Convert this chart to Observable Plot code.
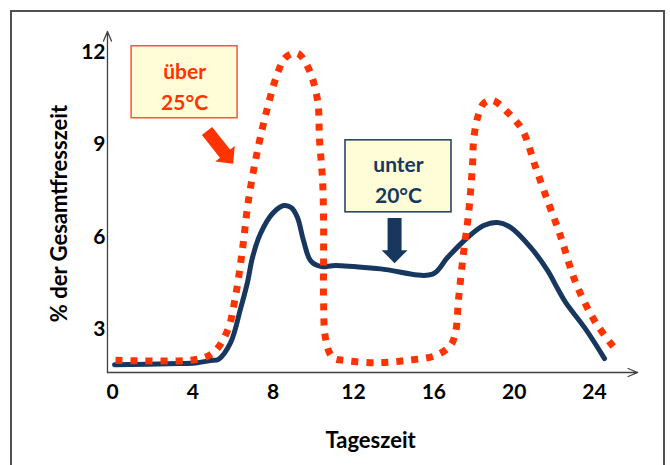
<!DOCTYPE html>
<html><head><meta charset="utf-8">
<script src="https://cdn.jsdelivr.net/npm/d3@7"></script>
<script src="https://cdn.jsdelivr.net/npm/@observablehq/plot@0.6"></script>
<style>
html,body{margin:0;padding:0;background:#fff;}
#wrap{position:relative;width:670px;height:465px;overflow:hidden;}
#border{position:absolute;left:10px;top:10px;width:655px;height:480px;border:2px solid #505050;box-sizing:border-box;pointer-events:none;}
</style></head>
<body><div id="wrap"><div id="border"></div></div>
<script>
// ---- data ----
const blueHours  = [0.10,3.24,4.13,4.88,5.28,5.88,6.37,6.72,6.97,7.37,7.97,8.52,8.91,9.21,9.51,9.86,10.36,11.11,13.35,15.94,16.68,17.68,18.48,19.17,19.82,20.82,21.66,22.16,22.56,23.56,24.50];
const blueValues = [1.84,1.88,1.90,1.98,2.02,2.56,3.65,4.52,5.33,6.11,6.76,7.02,6.95,6.63,5.88,5.23,5.04,5.07,4.96,4.79,5.33,5.98,6.37,6.47,6.31,5.66,4.91,4.32,3.87,3.00,2.04];
const redHours   = [0.15,4.23,5.03,5.73,6.13,6.47,6.77,7.22,7.72,8.22,8.62,9.21,9.76,10.21,10.31,10.46,10.51,10.51,10.51,10.61,10.96,11.60,13.25,14.74,16.09,16.83,17.08,17.23,17.48,17.73,17.93,17.98,18.18,18.48,18.92,19.72,20.42,21.07,21.71,22.16,22.41,23.06,24.05,25.05];
const redValues  = [1.99,2.02,2.24,2.96,4.09,5.59,7.19,8.81,10.21,11.32,11.84,11.97,11.48,10.44,9.13,7.84,6.53,5.23,3.93,2.69,2.08,1.98,1.91,1.99,2.14,2.47,2.89,3.97,5.49,6.76,8.39,9.14,9.88,10.34,10.44,10.02,9.46,8.26,7.09,6.31,5.82,4.52,3.22,2.34];
const xTicks = [0,4,8,12,16,20,24];
const yTicks = [3,6,9,12];
const xLabel = "Tageszeit";
const yLabel = "% der Gesamtfresszeit";
const noteTexts = ["über\n25°C", "unter\n20°C"];
const noteX = [3.59, 14.24];
const noteY = [11.03, 7.97];
const arrowFromX = [4.73, 14.07], arrowFromY = [9.43, 6.60];
const arrowToX = [6.03, 14.07],   arrowToY = [8.36, 5.13];
const axisOriginX = -0.25, axisOriginY = 1.59, axisEndX = 26.15, axisEndY = 12.68;

// ---- build ----
const blue = blueHours.map((h,i)=>({h, v: blueValues[i]}));
const red = redHours.map((h,i)=>({h, v: redValues[i]}));
const RED = "#FF3300", NAVY = "#17375E", FILL = "#FFFDD8";
const noteStroke = ["#FF5533", "#1F3B5A"];
const noteColor = [RED, NAVY];
const arrowColor = [RED, NAVY];
const arrowShaft = [13, 14], arrowHead = [25, 26], arrowHeadLen = [13, 13];

function boxes(index, scales) {
  const g = d3.create("svg:g");
  noteTexts.forEach((t,i)=>{
    const cx = scales.x(noteX[i]), cy = scales.y(noteY[i]);
    g.append("rect").attr("x", cx-53).attr("y", cy-36).attr("width",106).attr("height",72)
     .attr("fill", FILL).attr("stroke", noteStroke[i]).attr("stroke-width",1.5);
  });
  return g.node();
}
function blockArrows(index, scales) {
  const g = d3.create("svg:g");
  arrowFromX.forEach((_,i)=>{
    const x1 = scales.x(arrowFromX[i]), y1 = scales.y(arrowFromY[i]);
    const x2 = scales.x(arrowToX[i]), y2 = scales.y(arrowToY[i]);
    const dx=x2-x1, dy=y2-y1, L=Math.hypot(dx,dy), ux=dx/L, uy=dy/L, nx=-uy, ny=ux;
    const sw=arrowShaft[i]/2, hw=arrowHead[i]/2, hl=arrowHeadLen[i];
    const bx=x2-ux*hl, by=y2-uy*hl;
    const pts=[[x1+nx*sw,y1+ny*sw],[bx+nx*sw,by+ny*sw],[bx+nx*hw,by+ny*hw],[x2,y2],[bx-nx*hw,by-ny*hw],[bx-nx*sw,by-ny*sw],[x1-nx*sw,y1-ny*sw]];
    g.append("polygon").attr("points", pts.map(p=>p.join(",")).join(" ")).attr("fill", arrowColor[i]);
  });
  return g.node();
}

const chart = Plot.plot({
  width: 670, height: 465,
  marginLeft: 112, marginRight: 76, marginTop: 31, marginBottom: 93,
  x: {domain: [0,24]},
  y: {domain: [1.59, 12.68]},
  style: {fontFamily: "Lato, sans-serif", fontSize: "21px", fontWeight: "bold", color: "#000", background: "transparent", overflow: "visible"},
  marks: [
    Plot.arrow([0], {x1: axisOriginX, y1: axisOriginY, x2: axisEndX, y2: axisOriginY, stroke: "#404040", strokeWidth: 1.3, headLength: 12, headAngle: 45}),
    Plot.arrow([0], {x1: axisOriginX, y1: axisOriginY, x2: axisOriginX, y2: axisEndY, stroke: "#404040", strokeWidth: 1.3, headLength: 12, headAngle: 45}),
    Plot.axisX({ticks: xTicks, tickSize: 0, tickPadding: 12, fill: "#000", label: null}),
    Plot.axisY({ticks: yTicks, tickSize: 0, tickPadding: 7, fill: "#000", label: null}),
    Plot.text([xLabel], {x: () => 12.85, y: () => -0.62, text: d => d, lineAnchor: "middle", fontSize: 22, fontWeight: "bold", fill: "#000"}),
    Plot.text([yLabel], {x: () => -2.6, y: () => 6.76, text: d => d, lineAnchor: "middle", rotate: -90, fontSize: 22, fontWeight: "bold", fill: "#000"}),
    Plot.line(blue, {x: "h", y: "v", curve: "catmull-rom", stroke: NAVY, strokeWidth: 5, strokeLinejoin: "round"}),
    Plot.line(red, {x: "h", y: "v", curve: "catmull-rom", stroke: RED, strokeWidth: 7, strokeDasharray: "7,8", strokeLinecap: "butt"}),
    boxes,
    blockArrows,
    Plot.text([0], {x: () => noteX[0], y: () => noteY[0], text: () => noteTexts[0], lineHeight: 1.5, dy: 2, fontSize: 21, fontWeight: "bold", fill: noteColor[0]}),
    Plot.text([0], {x: () => noteX[1], y: () => noteY[1], text: () => noteTexts[1], lineHeight: 1.5, dy: 1, fontSize: 21, fontWeight: "bold", fill: noteColor[1]})
  ]
});
document.getElementById("wrap").appendChild(chart);
</script>
</body></html>
